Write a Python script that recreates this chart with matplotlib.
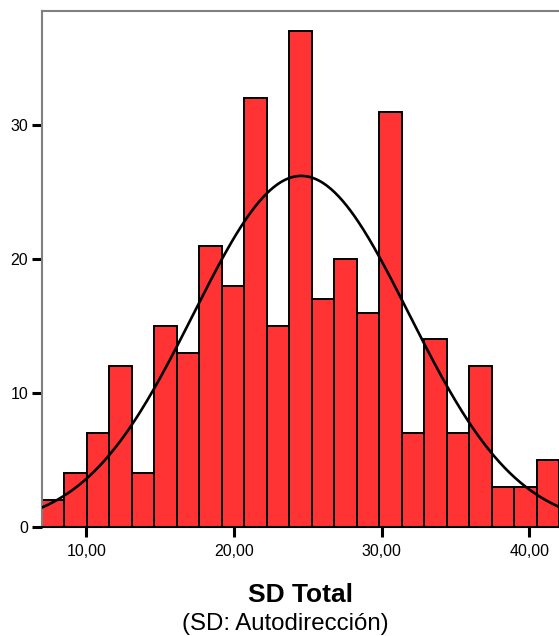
import numpy as np
import matplotlib
matplotlib.use("Agg")
import matplotlib.pyplot as plt

# histogram counts (SD Total), 23 bins from 7 to 42
counts = [2, 4, 7, 12, 4, 15, 13, 21, 18, 32, 15, 37, 17, 20, 16, 31, 7, 14, 7, 12, 3, 3, 5]
x_min, x_max = 7.0, 42.0
mean_sd = 24.55
std_sd = 7.3

xticks = [10, 20, 30, 40]
xtick_labels = ["10,00", "20,00", "30,00", "40,00"]
yticks = [0, 10, 20, 30]

plt.rcParams['font.family'] = ['Liberation Sans', 'DejaVu Sans']

fig = plt.figure(figsize=(5.59, 6.36), dpi=100)
ax = fig.add_axes([42/559, 109/636, 1 - 42/559, 516/636])

n = len(counts)
edges = np.linspace(x_min, x_max, n + 1)
bw = edges[1] - edges[0]
ax.bar(edges[:-1], counts, width=bw, align='edge', color='#ff3333',
       edgecolor='black', linewidth=1.4, zorder=2)

# normal curve scaled to counts
N = sum(counts)
xs = np.linspace(x_min, x_max, 400)
ys = N * bw / (std_sd * np.sqrt(2 * np.pi)) * np.exp(-0.5 * ((xs - mean_sd) / std_sd) ** 2)
ax.plot(xs, ys, color='black', linewidth=1.9, zorder=3)

ax.set_xlim(x_min, x_max)
ax.set_ylim(0, 38.5)
ax.set_xticks(xticks)
ax.set_xticklabels(xtick_labels)
ax.set_yticks(yticks)

ax.tick_params(axis='both', direction='out', length=7, width=2.2, color='black',
               labelsize=11.5, pad=5)
ax.tick_params(axis='y', pad=3)

for s in ['left', 'top']:
    ax.spines[s].set_color('#808080')
    ax.spines[s].set_linewidth(1.5)
ax.spines['right'].set_visible(False)
ax.spines['bottom'].set_color('black')
ax.spines['bottom'].set_linewidth(1.5)

fig.text(300/559, 1 - 602/636, "SD Total", ha='center', va='baseline',
         fontsize=19, fontweight='bold')
fig.text(285/559, 1 - 630/636, "(SD: Autodirección)", ha='center', va='baseline',
         fontsize=17.3)

fig.savefig("out.png", dpi=100)
